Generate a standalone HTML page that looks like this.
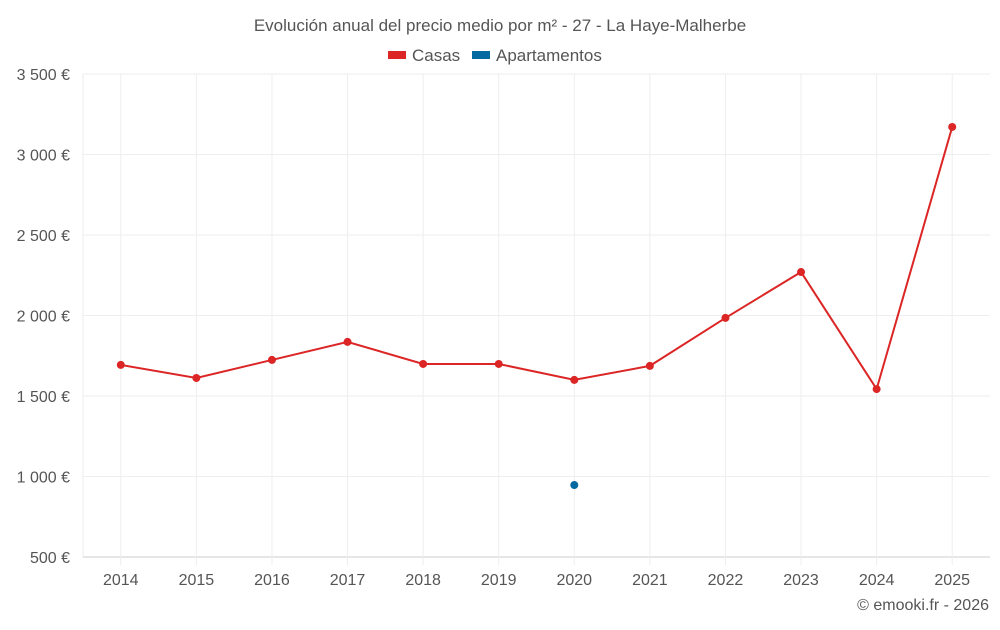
<!DOCTYPE html>
<html><head><meta charset="utf-8"><style>
body{margin:0;background:#fff;font-family:"Liberation Sans",sans-serif;}
svg text{font-family:"Liberation Sans",sans-serif;}
</style></head><body>
<svg id="c" width="1000" height="625">
<text x="500" y="31" text-anchor="middle" font-size="17" fill="#555">Evolución anual del precio medio por m² - 27 - La Haye-Malherbe</text>
<g>
<g><rect x="388" y="51" width="18" height="8" fill="#dc2626"/><text x="412" y="61" font-size="17" fill="#555">Casas</text></g>
<g><rect x="472" y="51" width="18" height="8" fill="#0369a1"/><text x="496" y="61" font-size="17" fill="#555">Apartamentos</text></g>
</g>
<g id="grid"></g><g id="marks"></g>
<text x="989" y="610" text-anchor="end" font-size="16" fill="#555">© emooki.fr - 2026</text>
</svg>
<script>
const years=["2014","2015","2016","2017","2018","2019","2020","2021","2022","2023","2024","2025"];
const casas=[1693,1612,1724,1836,1699,1699,1600,1687,1985,2270,1543,3171];
const apartamentos=[null,null,null,null,null,null,947,null,null,null,null,null];
const yTicks=[500,1000,1500,2000,2500,3000,3500];
const yLabels=["500 €","1 000 €","1 500 €","2 000 €","2 500 €","3 000 €","3 500 €"];
const L=83,R=990,T=74,B=557,yMin=500,yMax=3500;
const bw=(R-L)/years.length;
const x=i=>L+bw*(i+0.5);
const y=v=>B-(v-yMin)/(yMax-yMin)*(B-T);
const NS="http://www.w3.org/2000/svg";
const g=document.getElementById('grid'),m=document.getElementById('marks');
function mk(tag,a,p){const e=document.createElementNS(NS,tag);for(const k in a)e.setAttribute(k,a[k]);p.appendChild(e);return e;}
const lv=mk('line',{x1:L,x2:L,y1:T,y2:B,stroke:'#eee'},g);


yTicks.forEach((v,i)=>{
 const l=mk('line',{x1:L,x2:R,y1:y(v),y2:y(v),stroke:i==0?'#ccc':'#eee'},g);
 
 
 const t=mk('text',{x:70,y:y(v)+6,'text-anchor':'end','font-size':16,fill:'#555'},g);t.textContent=yLabels[i];
 
 
});
years.forEach((yr,i)=>{
 const l=mk('line',{x1:x(i),x2:x(i),y1:T,y2:B+8,stroke:'#eee'},g);
 
 
 const t=mk('text',{x:x(i),y:585,'text-anchor':'middle','font-size':16,fill:'#555'},g);t.textContent=yr;
 
 });
const pl=mk('polyline',{points:casas.map((v,i)=>x(i)+','+y(v)).join(' '),fill:'none',stroke:'#dc2626','stroke-width':2},m);


casas.forEach((v,i)=>{const c=mk('circle',{cx:x(i),cy:y(v),r:4,fill:'#dc2626'},m);
 
 });
apartamentos.forEach((v,i)=>{if(v==null)return;const c=mk('circle',{cx:x(i),cy:y(v),r:4,fill:'#0369a1'},m);
 
 });
</script>
</body></html>
